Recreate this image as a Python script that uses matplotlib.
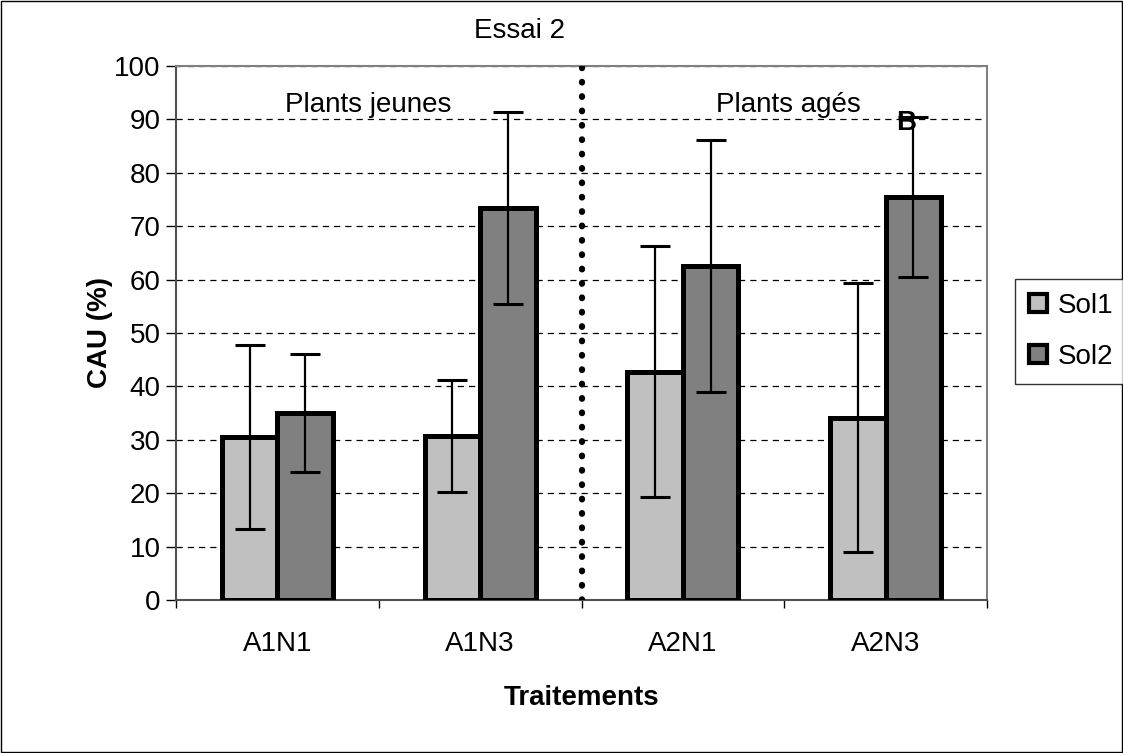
import matplotlib
matplotlib.use("Agg")
import matplotlib.pyplot as plt
from matplotlib.patches import Patch, Rectangle
import numpy as np

plt.rcParams['font.family'] = ['Liberation Sans', 'DejaVu Sans']

categories = ["A1N1", "A1N3", "A2N1", "A2N3"]
series_names = ["Sol1", "Sol2"]
sol1 = [30.5, 30.7, 42.7, 34.1]
sol1_err = [17.2, 10.5, 23.5, 25.2]
sol2 = [35.0, 73.4, 62.5, 75.5]
sol2_err = [11.0, 17.9, 23.6, 15.0]
colors = ["#C0C0C0", "#808080"]
yticks = list(range(0, 101, 10))
FS = 20

fig = plt.figure(figsize=(11.23, 7.53), dpi=100)
ax = fig.add_axes([176/1123, 1 - 600/753, (987-176)/1123, (600-66)/753])

x = np.arange(len(categories))
w = 0.274
for i, (vals, errs) in enumerate([(sol1, sol1_err), (sol2, sol2_err)]):
    pos = x + (i - 0.5) * w
    ax.bar(pos, vals, width=w, color=colors[i], edgecolor="black", linewidth=3.6, zorder=3)
    ax.errorbar(pos, vals, yerr=errs, fmt="none", ecolor="black", elinewidth=1.6,
                capsize=11, capthick=2.2, zorder=4)

ax.set_xlim(-0.5, len(categories) - 0.5)
ax.set_ylim(0, 100)
ax.set_yticks(yticks)
ax.set_yticklabels([str(t) for t in yticks], fontsize=FS)
ax.set_xticks(x)
ax.set_xticklabels(categories, fontsize=FS)
ax.tick_params(axis="x", length=0, pad=22)
ax.set_xticks(np.arange(-0.5, len(categories), 1.0), minor=True)
ax.tick_params(axis="x", which="minor", length=6, width=1, direction="out")
ax.tick_params(axis="y", length=7, width=1, direction="out", pad=4)
ax.yaxis.grid(True, linestyle=(0, (5, 4)), color="black", linewidth=0.9, zorder=0)
ax.set_axisbelow(True)
for s in ["top", "right"]:
    ax.spines[s].set_color("#808080")
    ax.spines[s].set_linewidth(1.5)
for s in ["left", "bottom"]:
    ax.spines[s].set_color("#505050")
    ax.spines[s].set_linewidth(1.5)

# dotted separator
ax.axvline(1.5, color="black", linestyle=(0, (0.1, 2.2)), linewidth=4.5,
           dash_capstyle="round", zorder=5)

ax.text(0.45, 92.7, "Plants jeunes", ha="center", va="center", fontsize=FS)
ax.text(2.52, 92.7, "Plants agés", ha="center", va="center", fontsize=FS)
ax.text(3.1, 89.3, "B", ha="center", va="center", fontsize=FS, fontweight="bold", zorder=6)

ax.set_ylabel("CAU (%)", fontsize=FS, fontweight="bold")
ax.yaxis.set_label_coords((100 - 176) / 811, 0.5)
ax.set_xlabel("Traitements", fontsize=FS, fontweight="bold")
ax.xaxis.set_label_coords(0.5, -(698 - 600) / 534)
ax.xaxis.label.set_va("center")
ax.yaxis.label.set_va("center")
fig.text(519/1123, 1 - 31/753, "Essai 2", ha="center", va="center", fontsize=FS)

handles = [Patch(facecolor=colors[i], edgecolor="black", linewidth=3) for i in range(2)]
leg = fig.legend(handles, series_names, loc="upper left",
                 bbox_to_anchor=(1015/1123, 1 - 279/753), fontsize=FS, frameon=True,
                 fancybox=False, handlelength=0.65, handleheight=0.65, handletextpad=0.4,
                 borderpad=0.5, labelspacing=0.9, borderaxespad=0)
leg.get_frame().set_edgecolor("black")
leg.get_frame().set_linewidth(1)

fig.add_artist(Rectangle((1/1123, 1/753), 1121/1123, 751/753, transform=fig.transFigure,
                         fill=False, edgecolor="black", linewidth=1))

fig.savefig("out.png", dpi=100)
